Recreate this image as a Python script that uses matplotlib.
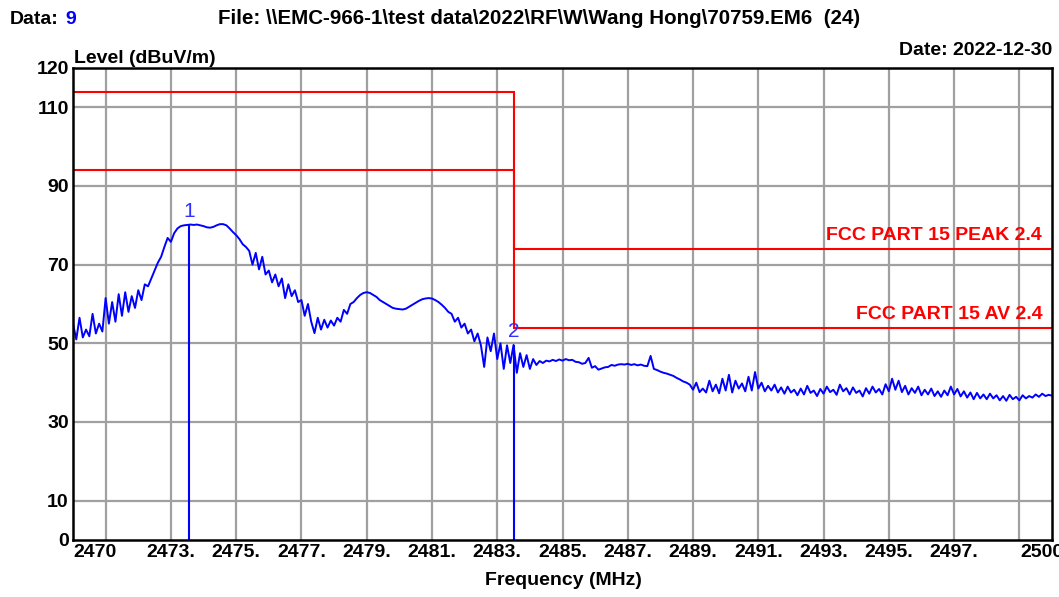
"""
Radiated emission plot, band edge 2483.5 MHz (FCC Part 15 2.4 GHz limits).
"""

import numpy as np
import matplotlib
matplotlib.use("Agg")
import matplotlib.pyplot as plt
import matplotlib.transforms as mtransforms

plt.rcParams["font.family"] = ["Liberation Sans", "DejaVu Sans"]

# sweep 2470 .. 2500 MHz, 0.1 MHz step
FREQ_START, FREQ_STOP = 2470.0, 2500.0
level_dbuv = [
    55.0, 51.0, 56.5, 51.5, 53.5, 51.8, 57.5, 52.5, 55.0, 53.0,   # 2470
    61.5, 55.0, 60.5, 55.5, 62.5, 57.0, 63.0, 58.0, 62.0, 59.0,   # 2471
    63.5, 61.0, 65.0, 64.5, 66.5, 68.5, 70.5, 72.0, 74.5, 76.8,   # 2472
    75.8, 78.0, 79.2, 79.8, 80.0, 80.1, 80.2, 80.1, 80.2, 80.0,   # 2473
    79.8, 79.5, 79.4, 79.6, 80.0, 80.3, 80.3, 80.0, 79.2, 78.3,   # 2474
    77.5, 76.5, 75.2, 74.5, 73.5, 70.0, 73.0, 68.8, 72.0, 67.5,   # 2475
    68.5, 65.5, 67.5, 64.5, 66.5, 61.5, 65.0, 62.0, 63.5, 60.5,   # 2476
    61.0, 57.0, 60.0, 55.5, 52.6, 56.5, 53.5, 56.0, 54.0, 55.8,   # 2477
    54.5, 56.5, 55.5, 58.5, 57.5, 60.0, 60.5, 61.5, 62.3, 62.8,   # 2478
    63.0, 62.8, 62.3, 61.8, 61.0, 60.5, 60.0, 59.5, 59.0, 58.8,   # 2479
    58.7, 58.6, 58.8, 59.3, 59.8, 60.3, 60.8, 61.2, 61.4, 61.5,   # 2480
    61.4, 61.0, 60.5, 59.8, 59.0, 58.0, 57.5, 55.5, 56.5, 54.0,   # 2481
    55.0, 52.5, 53.5, 50.5, 52.5, 49.5, 44.0, 51.5, 48.0, 52.5,   # 2482
    46.0, 50.0, 43.5, 49.5, 45.0, 49.6, 42.5, 47.5, 44.0, 47.0,   # 2483
    43.5, 46.0, 44.5, 45.5, 45.0, 45.6, 45.4, 45.8, 45.5, 45.9,   # 2484
    45.6, 46.0, 45.7, 45.8, 45.3, 45.2, 44.8, 45.0, 46.3, 43.8,   # 2485
    44.2, 43.3, 43.6, 43.9, 44.0, 44.5, 44.3, 44.6, 44.7, 44.6,   # 2486
    44.8, 44.5, 44.7, 44.4, 44.6, 44.3, 44.2, 46.8, 43.5, 43.2,   # 2487
    42.8, 42.5, 42.3, 42.0, 41.7, 41.2, 40.8, 40.3, 40.0, 39.5,   # 2488
    38.2, 40.0, 37.6, 38.5, 37.5, 40.5, 37.8, 39.5, 37.3, 41.0,   # 2489
    38.0, 42.0, 37.5, 40.5, 38.5, 39.8, 37.8, 41.5, 38.0, 42.7,   # 2490
    38.5, 40.0, 37.8, 39.2, 38.0, 39.5, 37.5, 38.8, 37.2, 39.0,   # 2491
    37.5, 38.2, 36.8, 38.5, 37.0, 39.2, 37.4, 38.0, 36.6, 38.4,   # 2492
    37.2, 39.0, 37.6, 38.2, 36.9, 39.5, 37.8, 38.6, 37.0, 38.8,   # 2493
    37.4, 38.0, 36.5, 38.6, 37.2, 39.0, 37.5, 38.4, 37.0, 39.6,   # 2494
    37.8, 41.0, 38.2, 40.5, 37.6, 39.2, 37.0, 38.6, 37.4, 39.0,   # 2495
    36.8, 38.2, 37.0, 38.5, 36.6, 37.8, 36.4, 38.0, 36.8, 39.0,   # 2496
    37.0, 38.4, 36.5, 37.8, 36.2, 37.5, 35.8, 37.4, 36.0, 37.0,   # 2497
    35.8, 37.2, 36.0, 36.8, 35.5, 36.6, 35.4, 36.9, 35.8, 36.4,   # 2498
    35.5, 36.8, 36.0, 36.6, 36.2, 37.0, 36.4, 37.2, 36.6, 36.9,   # 2499
    36.7,                                                         # 2500
]

# limit lines (step at the band edge)
limit_edges = [2470.0, 2483.5, 2500.0]
peak_limit = [114.0, 74.0]
av_limit = [94.0, 54.0]

# markers
marker_freq = [2473.55, 2483.5]
marker_level = [80.1, 49.6]
marker_names = ["1", "2"]

y_ticks = [0, 10, 30, 50, 70, 90, 110, 120]
x_tick_pos = [2470, 2473, 2475, 2477, 2479, 2481, 2483, 2485, 2487,
              2489, 2491, 2493, 2495, 2497, 2500]
x_tick_labels = ["2470", "2473.", "2475.", "2477.", "2479.", "2481.", "2483.",
                 "2485.", "2487.", "2489.", "2491.", "2493.", "2495.", "2497.", "2500"]
x_grid = list(range(2471, 2500, 2))
y_grid = [10, 30, 50, 70, 90, 110]

freq_mhz = np.linspace(FREQ_START, FREQ_STOP, len(level_dbuv))

W, H = 1059, 597
fig = plt.figure(figsize=(W / 100, H / 100), dpi=100)
ax = fig.add_axes([73 / W, 1 - 540 / H, (1052 - 73) / W, (540 - 68) / H])

FS = 14
BLUE = "#0000ff"
RED = "#ff0000"

# grid
for gx in x_grid:
    ax.axvline(gx, color="#a0a0a0", lw=1.6, zorder=1)
for gy in y_grid:
    ax.axhline(gy, color="#a0a0a0", lw=1.6, zorder=1)

# limits
ax.stairs(peak_limit, limit_edges, baseline=None, color=RED, lw=1.5, zorder=3)
ax.stairs(av_limit, limit_edges, baseline=None, color=RED, lw=1.5, zorder=3)
ax.text(2499.7, peak_limit[1] + 1.2, "FCC PART 15 PEAK 2.4", color=RED,
        fontsize=FS, fontweight="bold", ha="right", va="bottom", zorder=5)
ax.text(2499.7, av_limit[1] + 1.2, "FCC PART 15 AV 2.4", color=RED,
        fontsize=FS, fontweight="bold", ha="right", va="bottom", zorder=5)

# trace
ax.plot(freq_mhz, level_dbuv, color=BLUE, lw=1.4, zorder=4)

# markers
for f, lv, name in zip(marker_freq, marker_level, marker_names):
    ax.vlines(f, 0, lv, color=BLUE, lw=1.5, zorder=4)
    ax.annotate(name, (f, lv), xytext=(0, 4), textcoords="offset pixels",
                ha="center", va="bottom", color="#3030ff", fontsize=15, zorder=5)

ax.set_xlim(FREQ_START, FREQ_STOP)
ax.set_ylim(0, 120)
ax.set_yticks(y_ticks)
ax.set_yticklabels([str(v) for v in y_ticks], fontsize=FS, fontweight="bold")
ax.set_xticks(x_tick_pos)
ax.set_xticklabels(x_tick_labels, fontsize=FS, fontweight="bold")
ax.tick_params(length=0, pad=3)

labels = ax.get_xticklabels()
labels[0].set_ha("left")
labels[-1].set_ha("left")
labels[-1].set_transform(labels[-1].get_transform() +
                         mtransforms.ScaledTranslation(-0.32, 0, fig.dpi_scale_trans))

for sp in ax.spines.values():
    sp.set_linewidth(1.8)
    sp.set_color("black")
    sp.set_zorder(6)

# header / axis titles
fig.text(10 / W, 1 - 24 / H, "Data:", fontsize=FS, fontweight="bold", va="baseline")
fig.text(65 / W, 1 - 24 / H, "9", fontsize=FS, fontweight="bold", color=BLUE, va="baseline")
fig.text(218 / W, 1 - 24 / H, r"File: \\EMC-966-1\test data\2022\RF\W\Wang Hong\70759.EM6  (24)",
         fontsize=14.8, fontweight="bold", va="baseline")
fig.text(1052 / W, 1 - 55 / H, "Date: 2022-12-30", fontsize=FS, fontweight="bold",
         ha="right", va="baseline")
fig.text(74 / W, 1 - 63 / H, "Level (dBuV/m)", fontsize=FS, fontweight="bold", va="baseline")
fig.text(563 / W, 1 - 585 / H, "Frequency (MHz)", fontsize=FS, fontweight="bold",
         ha="center", va="baseline")

fig.savefig("out.png", dpi=100)
